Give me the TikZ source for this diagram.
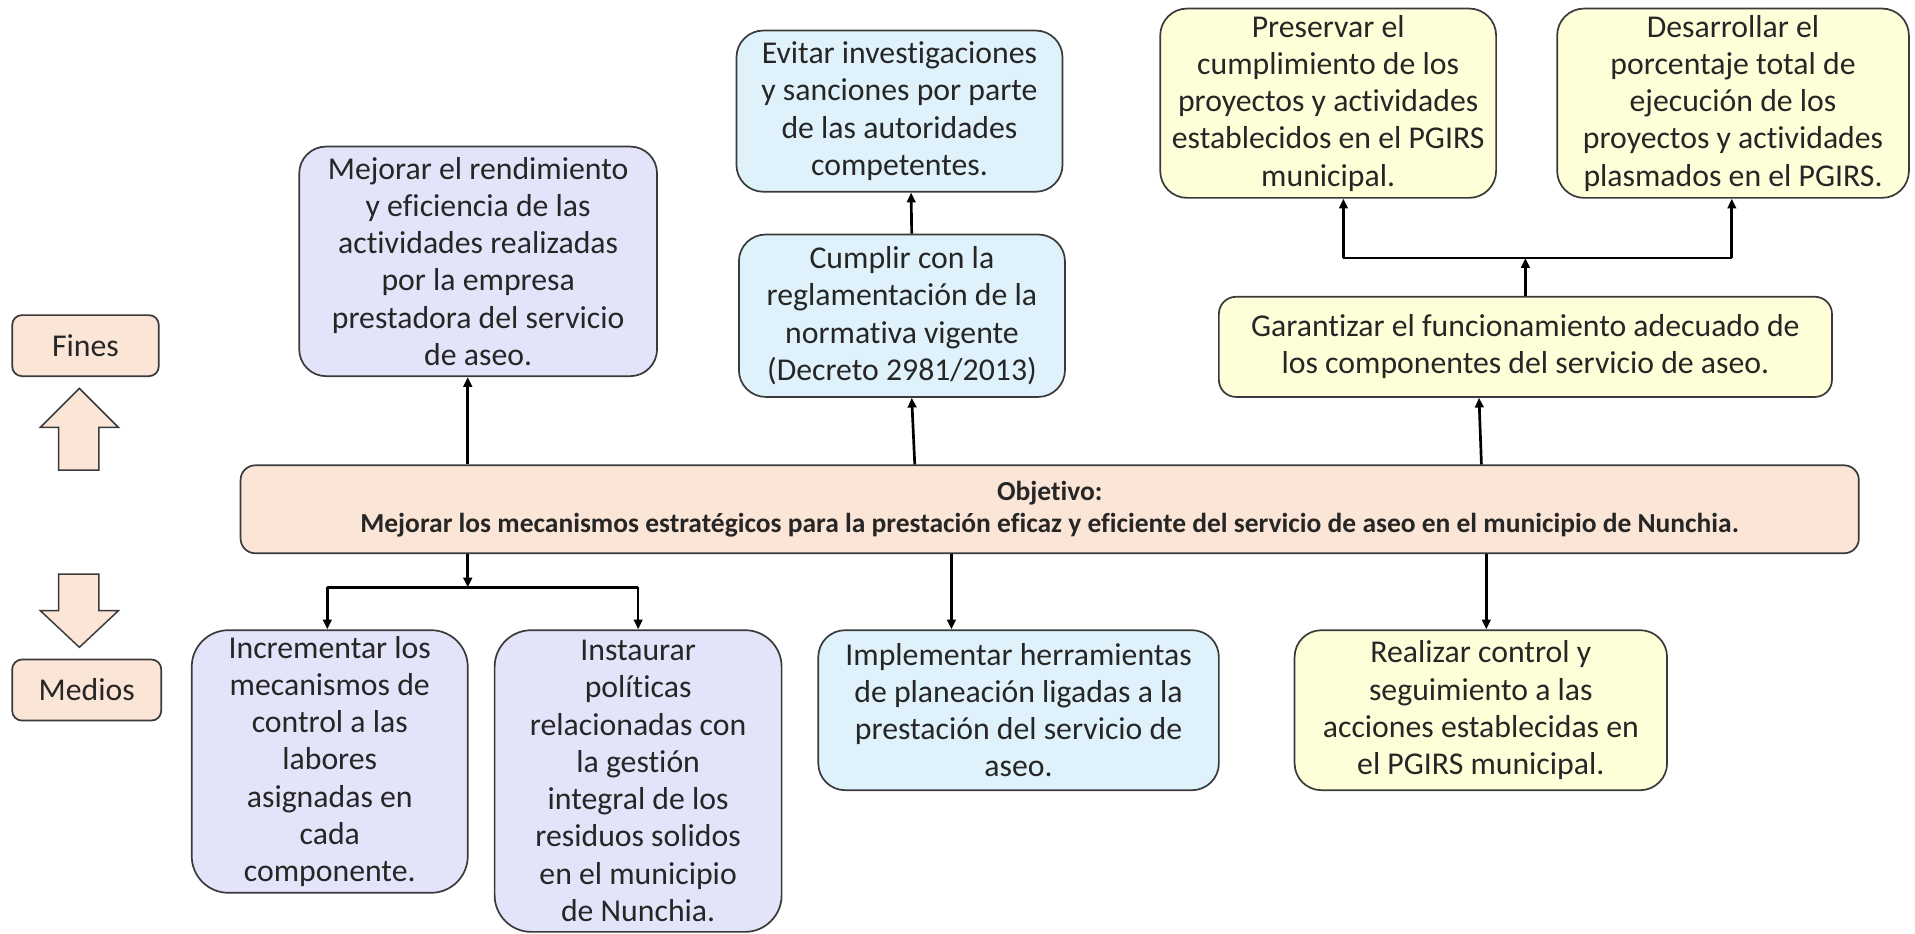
\documentclass[tikz,border=0pt]{standalone}
\usepackage{fontspec}
\setmainfont{Carlito}[Ligatures={NoCommon}]
\usetikzlibrary{arrows.meta}
\definecolor{peach}{HTML}{FBE5D6}
\definecolor{lav}{HTML}{E3E3FA}
\definecolor{lblue}{HTML}{DFF2FC}
\definecolor{lyel}{HTML}{FEFED8}
\definecolor{edge}{HTML}{3A3A3A}
\definecolor{txt}{HTML}{262626}
\tikzset{
  box/.style={draw=edge, line width=1.4pt, rounded corners=22pt, align=center,
    inner sep=0pt, text=txt, font=\fontsize{26}{30.5}\selectfont},
  tag/.style={box, rounded corners=8pt, fill=peach},
  arr/.style={line width=2.2pt, -{Triangle[length=8pt,width=7pt]}},
  ln/.style={line width=2.2pt},
  bigarrow/.style={draw=edge, line width=1.2pt, fill=peach}
}
\begin{document}
\begin{tikzpicture}[x=1pt,y=-1pt]
\useasboundingbox (0,0) rectangle (1568,764);
% side labels
\node[tag, minimum width=120pt, minimum height=50pt] (fines) at (70,283) {Fines};
\node[tag, minimum width=122pt, minimum height=50pt] (medios) at (71,565) {Medios};
\draw[bigarrow] (65,318) -- (97,350) -- (81,350) -- (81,385) -- (48,385) -- (48,350) -- (33,350) -- cycle;
\draw[bigarrow] (65,530) -- (97,500) -- (81,500) -- (81,470) -- (48,470) -- (48,500) -- (33,500) -- cycle;
% objective
\node[box, fill=peach, rounded corners=12pt, minimum width=1325pt, minimum height=72pt,
  font=\bfseries\fontsize{22.5}{26}\selectfont] (obj) at (859.5,417)
  {Objetivo:\\Mejorar los mecanismos estratégicos para la prestación eficaz y eficiente del servicio de aseo en el municipio de Nunchia.};
% ends
\node[box, fill=lav, minimum width=293pt, minimum height=188pt] (mej) at (391.5,214)
  {Mejorar el rendimiento\\y eficiencia de las\\actividades realizadas\\por la empresa\\prestadora del servicio\\de aseo.};
\node[box, fill=lblue, minimum width=267pt, minimum height=132pt] (evi) at (736.5,91)
  {Evitar investigaciones\\y sanciones por parte\\de las autoridades\\competentes.};
\node[box, fill=lblue, minimum width=267pt, minimum height=133pt] (cum) at (738.5,258.5)
  {Cumplir con la\\reglamentación de la\\normativa vigente\\(Decreto 2981/2013)};
\node[box, fill=lyel, minimum width=275pt, minimum height=155pt] (pre) at (1087.5,84.5)
  {Preservar el\\cumplimiento de los\\proyectos y actividades\\establecidos en el PGIRS\\municipal.};
\node[box, fill=lyel, minimum width=288pt, minimum height=155pt] (des) at (1419,84.5)
  {Desarrollar el\\porcentaje total de\\ejecución de los\\proyectos y actividades\\plasmados en el PGIRS.};
\node[box, fill=lyel, rounded corners=14pt, minimum width=502pt, minimum height=82pt] (gar) at (1249,284)
  {Garantizar el funcionamiento adecuado de\\los componentes del servicio de aseo.};
% means
\node[box, fill=lav, rounded corners=30pt, minimum width=226pt, minimum height=215pt] (inc) at (270,623.5)
  {Incrementar los\\mecanismos de\\control a las\\labores\\asignadas en\\cada\\componente.};
\node[box, fill=lav, rounded corners=30pt, minimum width=235pt, minimum height=247pt] (ins) at (522.5,639.5)
  {Instaurar\\políticas\\relacionadas con\\la gestión\\integral de los\\residuos solidos\\en el municipio\\de Nunchia.};
\node[box, fill=lblue, minimum width=328pt, minimum height=131pt] (imp) at (834,581.5)
  {Implementar herramientas\\de planeación ligadas a la\\prestación del servicio de\\aseo.};
\node[box, fill=lyel, minimum width=305pt, minimum height=131pt] (rea) at (1212.5,581.5)
  {Realizar control y\\seguimiento a las\\acciones establecidas en\\el PGIRS municipal.};
% connectors up
\draw[arr] ([xshift=-8.5pt]mej.south |- obj.north) -- ([xshift=-8.5pt]mej.south);
\draw[arr] ([xshift=10.5pt]cum.south |- obj.north) -- ([xshift=8pt]cum.south);
\draw[arr] ([xshift=8pt]cum.north) -- ([xshift=9.5pt]evi.south);
\draw[arr] ([xshift=-36pt]gar.south |- obj.north) -- ([xshift=-38pt]gar.south);
\coordinate (gj) at ([yshift=31pt]gar.north);
\draw[arr] (gar.north) -- (gj);
\draw[ln] ([xshift=12.5pt]pre.south |- gj) -- ([xshift=-1pt]des.south |- gj);
\draw[arr] ([xshift=12.5pt]pre.south |- gj) -- ([xshift=12.5pt]pre.south);
\draw[arr] ([xshift=-1pt]des.south |- gj) -- ([xshift=-1pt]des.south);
% connectors down
\coordinate (dj) at ([xshift=-8.5pt]mej.south |- 0,481);
\draw[arr] ([xshift=-8.5pt]mej.south |- obj.south) -- (dj);
\draw[ln] ([xshift=-2pt]inc.north |- dj) -- (ins.north |- dj);
\draw[arr] ([xshift=-2pt]inc.north |- dj) -- ([xshift=-2pt]inc.north);
\draw[arr] (ins.north |- dj) -- (ins.north);
\draw[arr] ([xshift=-55pt]imp.north |- obj.south) -- ([xshift=-55pt]imp.north);
\draw[arr] ([xshift=4.5pt]rea.north |- obj.south) -- ([xshift=4.5pt]rea.north);
\end{tikzpicture}
\end{document}
